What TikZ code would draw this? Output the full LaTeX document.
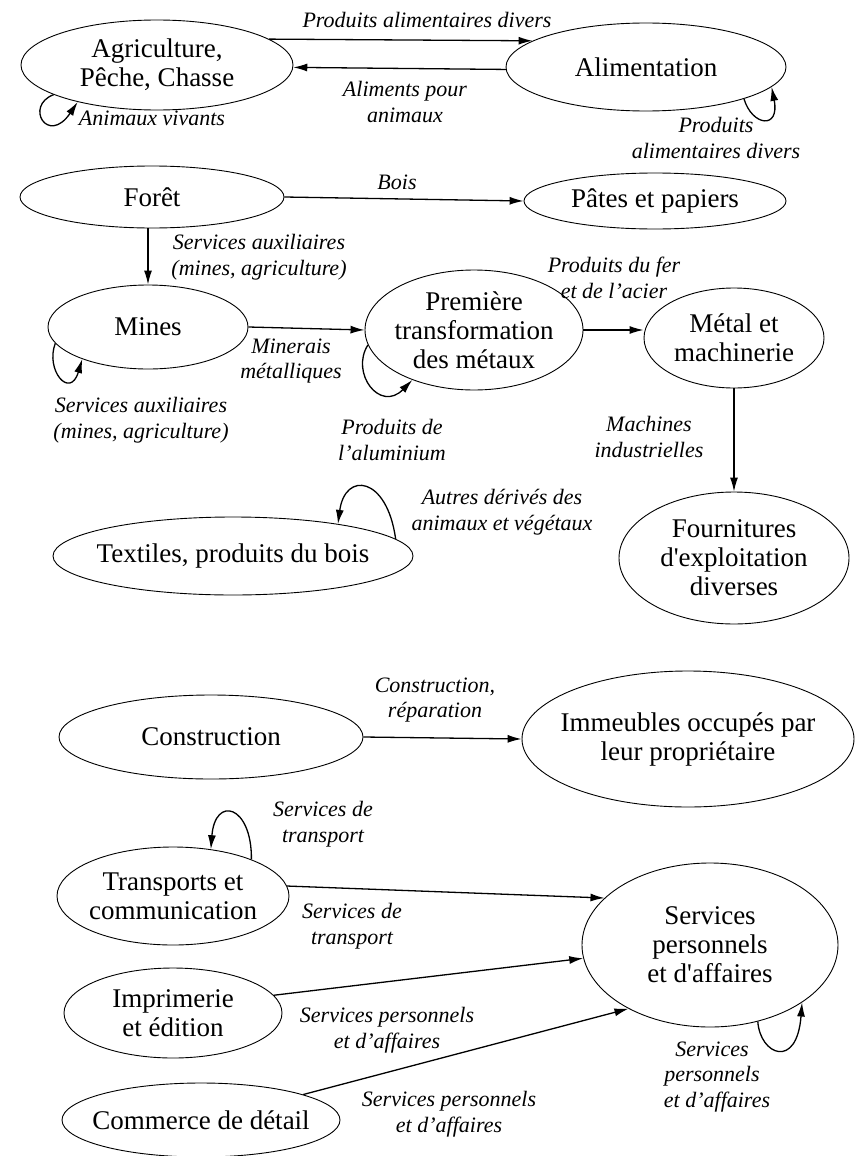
\documentclass[tikz,border=0pt]{standalone}
\usepackage{fontspec}
\setmainfont{Liberation Serif}[ItalicFont={Liberation Serif Italic},BoldFont={Liberation Serif Bold}]
\usetikzlibrary{shapes.geometric,arrows.meta}
\begin{document}
\begin{tikzpicture}[x=1pt,y=-1pt,
  ell/.style={draw, ellipse, inner sep=0pt, line width=0.9pt},
  nt/.style={font=\fontsize{27}{29}\selectfont, align=center, inner sep=0pt},
  lb/.style={font=\fontsize{22}{25.5}\selectfont\itshape, align=center, inner sep=0pt},
  arr/.style={line width=1.3pt, -{Latex[length=14pt,width=8pt]}}]
\fill[white] (0,0) rectangle (854,1156);
\useasboundingbox (0,0) rectangle (854,1156);

% nodes
\node[ell, minimum width=272pt, minimum height=90pt, label={[nt]center:{Agriculture,\\Pêche, Chasse}}] (agri) at (157,65) {};
\node[ell, minimum width=280pt, minimum height=88pt, label={[nt]center:{Alimentation}}] (alim) at (646,67) {};
\node[ell, minimum width=264pt, minimum height=62pt, label={[nt]center:{Forêt}}] (foret) at (152,197) {};
\node[ell, minimum width=262pt, minimum height=56pt, label={[nt]center:{Pâtes et papiers}}] (pates) at (655,201) {};
\node[ell, minimum width=200pt, minimum height=84pt, label={[nt]center:{Mines}}] (mines) at (148,327) {};
\node[ell, minimum width=218pt, minimum height=120pt, label={[nt]center:{Première\\transformation\\des métaux}}] (prem) at (474,330) {};
\node[ell, minimum width=180pt, minimum height=100pt, label={[nt]center:{Métal et\\machinerie}}] (metal) at (734,338) {};
\node[ell, minimum width=230pt, minimum height=132pt, label={[nt]center:{Fournitures\\d\textquotesingle exploitation\\diverses}}] (fourn) at (734,558) {};
\node[ell, minimum width=360pt, minimum height=78pt, label={[nt]center:{Textiles, produits du bois}}] (textiles) at (233,556) {};
\node[ell, minimum width=304pt, minimum height=84pt, label={[nt]center:{Construction}}] (constr) at (211,737) {};
\node[ell, minimum width=332pt, minimum height=136pt, label={[nt]center:{Immeubles occupés par\\leur propriétaire}}] (immeub) at (688,739) {};
\node[ell, minimum width=232pt, minimum height=98pt, label={[nt]center:{Transports et\\communication}}] (trans) at (173,896) {};
\node[ell, minimum width=218pt, minimum height=90pt, label={[nt]center:{Imprimerie\\et édition}}] (impr) at (173,1013) {};
\node[ell, minimum width=278pt, minimum height=74pt, label={[nt]center:{Commerce de détail}}] (comm) at (201,1120) {};
\node[ell, minimum width=256pt, minimum height=164pt, label={[nt]center:{Services\\personnels\\et d\textquotesingle affaires}}] (serv) at (710,945) {};

% labels
\node[lb] (l1) at (427,20) {Produits alimentaires divers};
\node[lb] (l2) at (405,102) {Aliments pour\\animaux};
\node[lb] (l3) at (152,118) {Animaux vivants};
\node[lb] (l4) at (716,138) {Produits\\alimentaires divers};
\node[lb] (l5) at (397,182) {Bois};
\node[lb] (l6) at (259,257) {Services auxiliaires\\(mines, agriculture)};
\node[lb] (l7) at (291,361) {Minerais\\métalliques};
\node[lb] (l8) at (141,420) {Services auxiliaires\\(mines, agriculture)};
\node[lb] (l9) at (392,440) {Produits de\\l’aluminium};
\node[lb] (l10) at (614,278) {Produits du fer\\et de l’acier};
\node[lb] (l11) at (649,437) {Machines\\industrielles};
\node[lb] (l12) at (502,512) {Autres dérivés des\\animaux et végétaux};
\node[lb] (l13) at (435,700) {Construction,\\réparation};
\node[lb] (l14) at (323,824) {Services de\\transport};
\node[lb] (l15) at (352,926) {Services de\\transport};
\node[lb] (l16) at (387,1030) {Services personnels\\et d’affaires};
\node[lb] (l17) at (449,1114) {Services personnels\\et d’affaires};
\node[lb] (l18) at (712,1077) {Services\\personnels\\\hspace*{10pt}et d’affaires};

% straight connectors
\draw[arr] (agri.13) -- (alim.167);
\draw[arr] (alim.181) -- (agri.-1);
\draw[arr] (foret.east) -- (pates.west);
\draw[arr] (mines.north |- foret.south) -- (mines.north);
\draw[arr] (mines.east) -- (prem.west);
\draw[arr] (prem.east) -- (metal.west |- prem.east);
\draw[arr] (metal.south) -- (fourn.north);
\draw[arr] (constr.east) -- (immeub.west);
\draw[arr] (trans.5) -- (serv.156);
\draw[arr] (impr.10) -- (serv.186);
\draw[arr] (comm.14) -- (serv.218);

% self loops
\draw[arr] (agri.196) .. controls (24,106) and (48,146) .. (agri.205);
\draw[arr] (alim.342) .. controls (752,126) and (780,130) .. (alim.351);
\draw[arr] (mines.190) .. controls (45,370) and (70,400) .. (mines.206);
\draw[arr] (prem.188) .. controls (350,373) and (380,413) .. (prem.219);
\draw[arr] (textiles.6.6) .. controls (387,476) and (345,471) .. (textiles.17.2);
\draw[arr] (trans.25) .. controls (252,805) and (215,795) .. (trans.51);
\draw[arr] (serv.302) .. controls (760,1055) and (797,1070) .. (serv.328);
\end{tikzpicture}
\end{document}
